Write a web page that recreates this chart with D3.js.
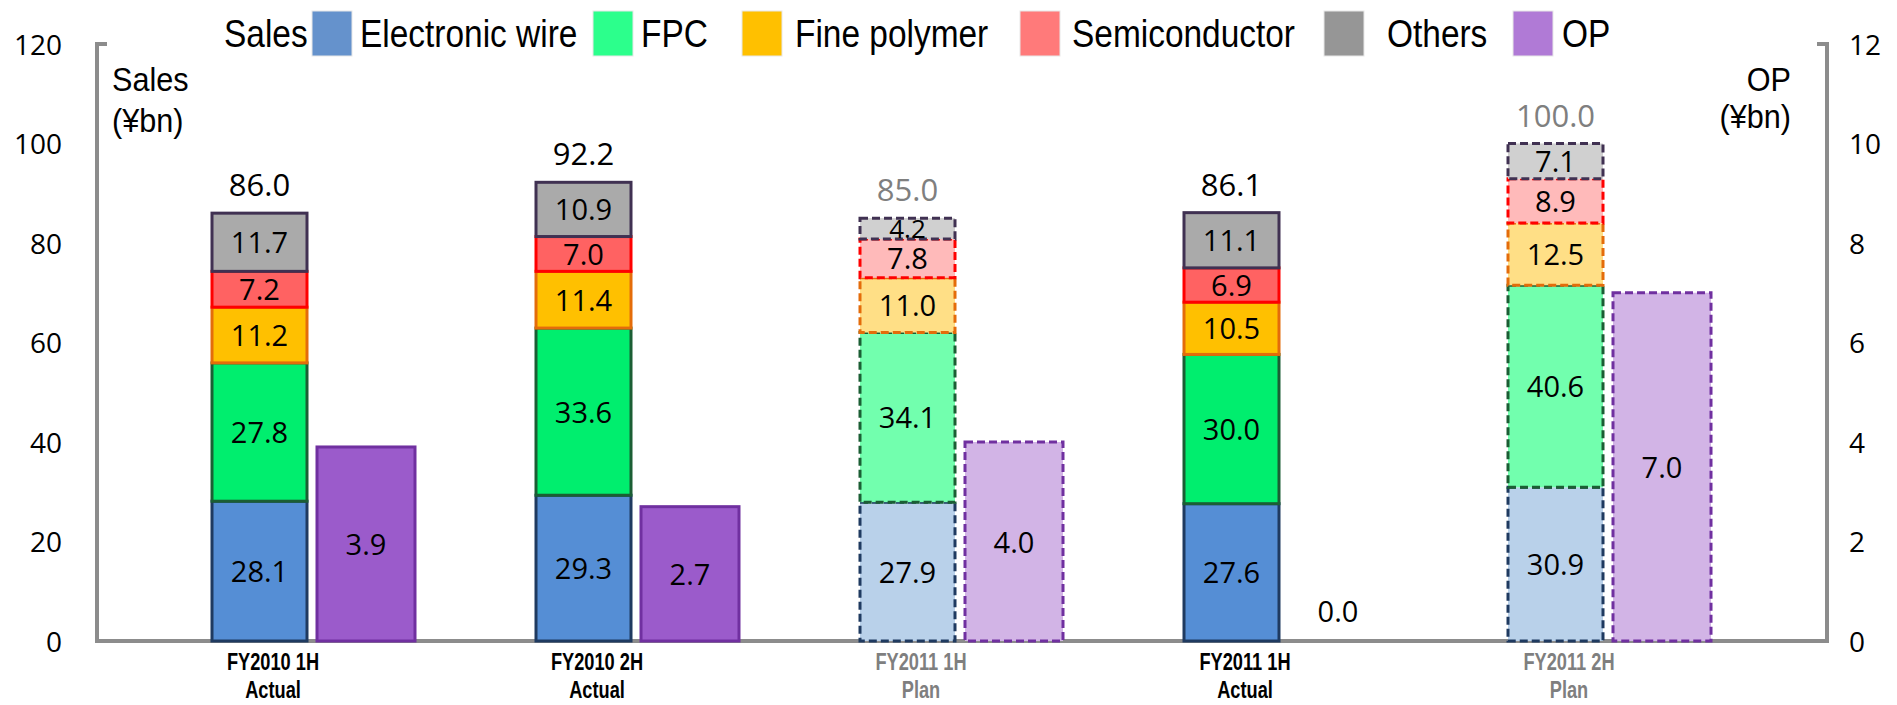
<!DOCTYPE html>
<html><head><meta charset="utf-8">
<script src="https://cdn.jsdelivr.net/npm/d3@7"></script>
<style>body{margin:0;background:#fff;} svg{display:block;}</style>
</head><body><svg id="c" width="1897" height="705"></svg>
<script>
// ---------- data ----------
const categories = ["FY2010 1H","FY2010 2H","FY2011 1H","FY2011 1H","FY2011 2H"];
const subLabels = ["Actual","Actual","Plan","Actual","Plan"];
const isPlan = [false,false,true,false,true];
const seriesNames = ["Electronic wire","FPC","Fine polymer","Semiconductor","Others"];
const electronicWire = [28.1,29.3,27.9,27.6,30.9];
const fpc = [27.8,33.6,34.1,30.0,40.6];
const finePolymer = [11.2,11.4,11.0,10.5,12.5];
const semiconductor = [7.2,7.0,7.8,6.9,8.9];
const others = [11.7,10.9,4.2,11.1,7.1];
const salesTotal = [86.0,92.2,85.0,86.1,100.0];
const op = [3.9,2.7,4.0,0.0,7.0];
const salesTicks = [0,20,40,60,80,100,120];
const opTicks = [0,2,4,6,8,10,12];

// ---------- styles ----------
const seriesValues = [electronicWire,fpc,finePolymer,semiconductor,others];
const fillSolid = ["#558ed5","#00ee6e","#ffc000","#ff6262","#aaaaaa"];
const fillPlan  = ["#b9d1ea","#72ffae","#ffdf86","#ffbaba","#d0d0d0"];
const strokeCol = ["#1f3a60","#1b5e34","#e46c0a","#ff0000","#403152"];
const legendCol = ["#6592cc","#2cff8c","#ffc000","#ff7a7a","#969696","#b07ad6"];
const opFill = "#9b5bcb", opFillPlan = "#d2b4e6", opStroke = "#7030a0";

const svg = d3.select("#c");
const xL = 97, xR = 1827, yBot = 641, yTop = 44;
const y = d3.scaleLinear().domain([0,120]).range([yBot,yTop]);
const yOP = d3.scaleLinear().domain([0,12]).range([yBot,yTop]);
const x = d3.scalePoint().domain(d3.range(categories.length)).range([273,1569]);
const salesOff = -61, salesW = 95, opOff = 44, opW = 98;
const numFont = "'Open Sans', 'DejaVu Sans', sans-serif";
const arial = "'Liberation Sans', Arial, sans-serif";

// condensed text helper
function ctext(g, tx, ty, str, size, sx, anchor, weight, color){
  return g.append("text").attr("transform",`translate(${tx},${ty}) scale(${sx},1)`)
    .attr("font-family",arial).attr("font-size",size).attr("text-anchor",anchor||"start")
    .attr("font-weight",weight||"normal").attr("fill",color||"#000").text(str);
}

// ---------- axes ----------
const axisCol = "#8c8c8c";
svg.append("path").attr("d",`M${xL+10},${yTop} H${xL} V${yBot} H${xR} V${yTop} H${xR-10}`)
  .attr("fill","none").attr("stroke",axisCol).attr("stroke-width",4);

const leftAxis = d3.axisLeft(y).tickValues(salesTicks).tickSize(0).tickPadding(0).tickFormat(d3.format("d"));
const gl = svg.append("g").attr("transform","translate(62,0)").call(leftAxis);
gl.select(".domain").remove();
gl.selectAll("text").attr("font-family",numFont).attr("font-size",28).attr("fill","#000").attr("dy","0.36em");

const rightAxis = d3.axisRight(yOP).tickValues(opTicks).tickSize(0).tickPadding(0).tickFormat(d3.format("d"));
const gr = svg.append("g").attr("transform","translate(1849,0)").call(rightAxis);
gr.select(".domain").remove();
gr.selectAll("text").attr("font-family",numFont).attr("font-size",28).attr("fill","#000").attr("dy","0.36em");

// axis titles
ctext(svg,112,91,"Sales",34,0.9,"start");
ctext(svg,112,132,"(¥bn)",34,0.9,"start");
ctext(svg,1791,91,"OP",34,0.9,"end");
ctext(svg,1791,128,"(¥bn)",34,0.9,"end");

// ---------- bars ----------
const stacks = categories.map((c,i)=>{
  let acc = 0;
  return seriesValues.map((arr,s)=>{ const y0=acc; acc+=arr[i]; return {i,s,y0,y1:acc,v:arr[i]}; });
});
const bars = svg.append("g");
stacks.forEach((segs,i)=>{
  const plan = isPlan[i];
  const x0 = x(i)+salesOff;
  segs.forEach(d=>{
    bars.append("rect").attr("x",x0).attr("y",y(d.y1)).attr("width",salesW).attr("height",y(d.y0)-y(d.y1))
      .attr("fill",plan?fillPlan[d.s]:fillSolid[d.s]).attr("stroke",strokeCol[d.s]).attr("stroke-width",3)
      .attr("stroke-dasharray",plan?"8,4":null);
  });
});
// segment labels
stacks.forEach((segs,i)=>{
  const cx = x(i)+salesOff+salesW/2;
  segs.forEach(d=>{
    const small = (y(d.y0)-y(d.y1)) < 24;
    svg.append("text").attr("x",cx).attr("y",(y(d.y0)+y(d.y1))/2).attr("dy","0.38em")
      .attr("text-anchor","middle").attr("font-family",numFont).attr("font-size",small?26:29)
      .attr("fill","#000").text(d3.format(".1f")(d.v));
  });
  svg.append("text").attr("x",cx).attr("y",y(salesTotal[i])-17)
    .attr("text-anchor","middle").attr("font-family",numFont).attr("font-size",31)
    .attr("fill",isPlan[i]?"#7f7f7f":"#000").text(d3.format(".1f")(salesTotal[i]));
});
// OP bars
op.forEach((v,i)=>{
  const plan = isPlan[i];
  const x0 = x(i)+opOff;
  if(v>0){
    svg.append("rect").attr("x",x0).attr("y",yOP(v)).attr("width",opW).attr("height",yOP(0)-yOP(v))
      .attr("fill",plan?opFillPlan:opFill).attr("stroke",opStroke).attr("stroke-width",3)
      .attr("stroke-dasharray",plan?"8,4":null);
  }
  const ly = v>0 ? (yOP(v)+yOP(0))/2 : yOP(0)-30;
  svg.append("text").attr("x",x0+opW/2).attr("y",ly).attr("dy","0.38em")
    .attr("text-anchor","middle").attr("font-family",numFont).attr("font-size",29)
    .attr("fill","#000").text(d3.format(".1f")(v));
});

// ---------- category labels ----------
categories.forEach((c,i)=>{
  const col = isPlan[i]?"#7f7f7f":"#000";
  ctext(svg,x(i),670,c,24,0.76,"middle","bold",col);
  ctext(svg,x(i),698,subLabels[i],24,0.76,"middle","bold",col);
});

// ---------- legend ----------
const lg = svg.append("g");
ctext(lg,224,47,"Sales",38,0.88,"start");
const legendItems = seriesNames.concat(["OP"]);
const swX = [312,593,742,1020,1324,1513];
const txX = [360,641,795,1072,1387,1562];
legendItems.forEach((n,k)=>{
  lg.append("rect").attr("x",swX[k]).attr("y",11).attr("width",40).attr("height",45)
    .attr("fill",legendCol[k]).attr("stroke","#e8e8e8").attr("stroke-width",1);
  ctext(lg,txX[k],47,n,38,0.88,"start");
});
</script></body></html>
